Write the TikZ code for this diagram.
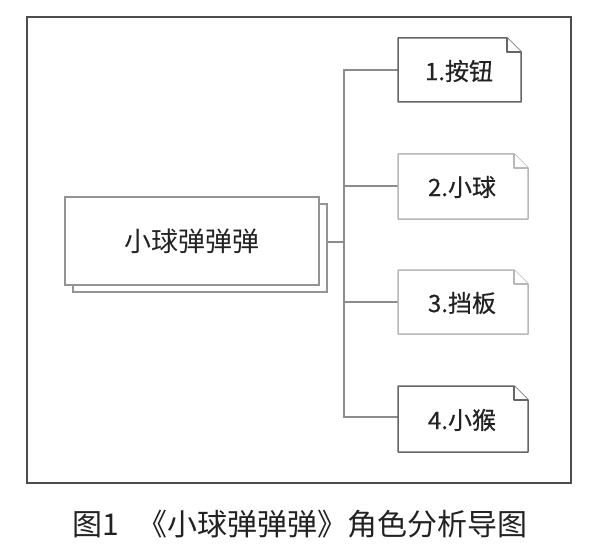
\documentclass[tikz,border=0pt]{standalone}
\usepackage{fontspec}
\setmainfont{Noto Sans CJK SC}
\newfontfamily\leaffont[FakeBold=0.5]{Noto Sans CJK SC}
\usetikzlibrary{shadows,backgrounds}
\definecolor{txt}{HTML}{222222}
\tikzset{
  frame/.style={draw=black!70, line width=1.5pt},
  conn/.style={draw=black!45, line width=1.5pt},
  rootbox/.style={draw=black!42, line width=1.5pt, fill=white, minimum width=254pt, minimum height=88pt,
    inner sep=0pt, font=\fontsize{27}{30}\selectfont, text=txt,
    copy shadow={shadow xshift=8pt, shadow yshift=-7pt}},
  leaf/.style={inner sep=0pt, font=\leaffont\fontsize{24}{27}\selectfont, text=txt},
  notedark/.style={draw=black!60, line width=1.5pt, fill=white, line join=round},
  notelight/.style={draw=black!28, line width=1.5pt, fill=white, line join=round},
}
\begin{document}
\begin{tikzpicture}[x=1pt,y=-1pt]
\useasboundingbox (0,0) rectangle (600,559);
\draw[frame] (27,17) rectangle (571,483);

\node[rootbox] (root) at (192,241) {小球弹弹弹};

% leaf outlines
\coordinate (l1nw) at (398,38);  \coordinate (l1se) at (521,102);
\coordinate (l2nw) at (398,154); \coordinate (l2se) at (528,219);
\coordinate (l3nw) at (398,270); \coordinate (l3se) at (528,334);
\coordinate (l4nw) at (398,386); \coordinate (l4se) at (528,452);

\foreach \i/\st in {1/notedark,2/notelight,3/notelight,4/notedark}{
  \draw[\st] (l\i nw) -- ([xshift=-14pt]l\i nw -| l\i se) -- ([yshift=-14pt]l\i nw -| l\i se)
     -- (l\i se) -- (l\i se -| l\i nw) -- cycle;
  \draw[\st] ([xshift=-14pt]l\i nw -| l\i se) -- ([xshift=-14pt,yshift=-14pt]l\i nw -| l\i se)
     -- ([yshift=-14pt]l\i nw -| l\i se);
}

\node[leaf] (a) at (459,71) {1.按钮};
\node[leaf] (b) at (462,187) {2.小球};
\node[leaf] (c) at (462,303) {3.挡板};
\node[leaf] (d) at (462,420) {4.小猴};

\coordinate (trunk) at (344,242);
\coordinate (ae) at (398,70);
\coordinate (be) at (398,186);
\coordinate (ce) at (398,302);
\coordinate (de) at (398,417);

\begin{pgfonlayer}{background}
\fill[white] (0,0) rectangle (600,559);
\draw[conn] (root.east |- trunk) -- (trunk);
\draw[conn] (trunk) |- (ae);
\draw[conn] (trunk) |- (be);
\draw[conn] (trunk) |- (ce);
\draw[conn] (trunk) |- (de);
\end{pgfonlayer}

\node[font=\fontsize{30}{34}\selectfont, text=txt] (cap) at (300,524) {图1\hspace{0.6em}《小球弹弹弹》角色分析导图};
\end{tikzpicture}
\end{document}
